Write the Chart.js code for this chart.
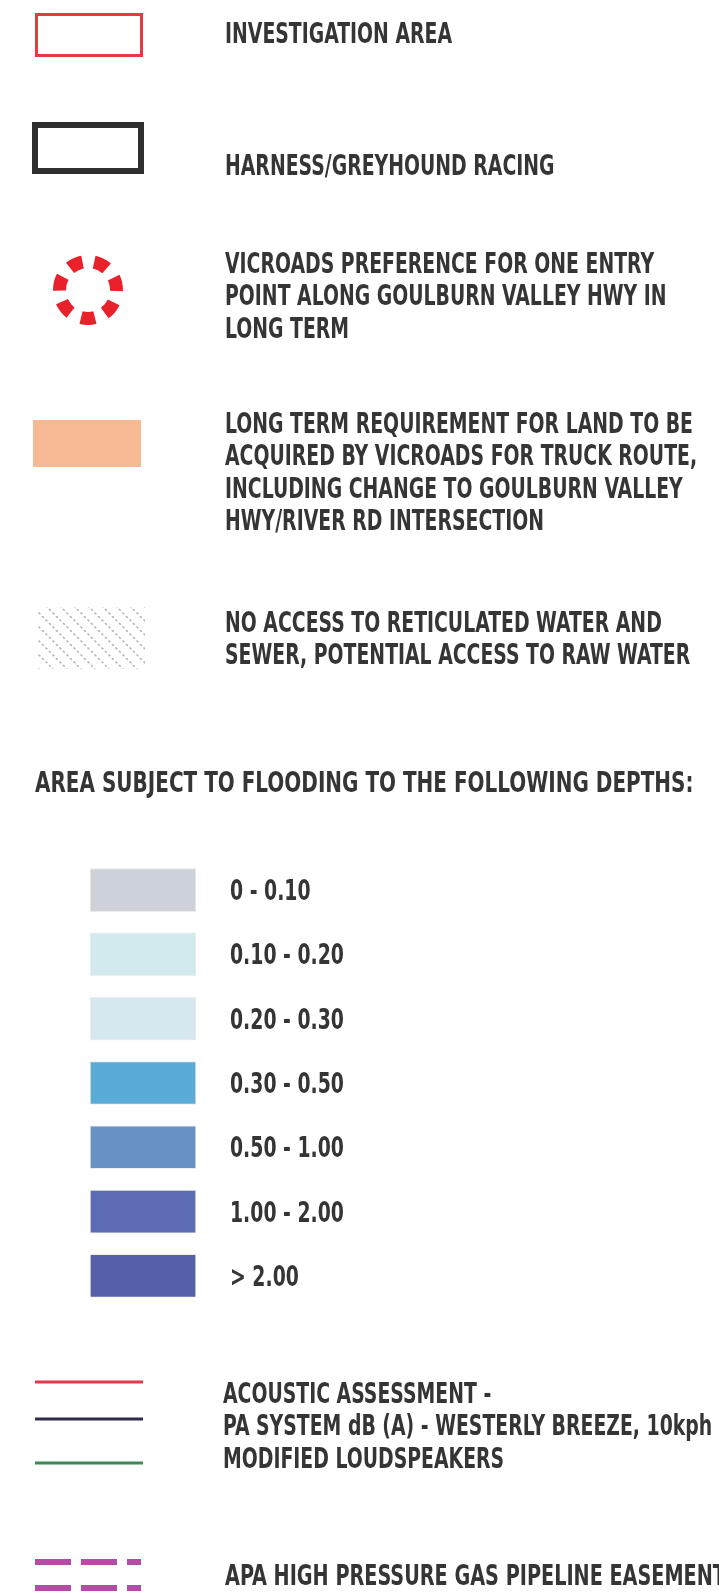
<!DOCTYPE html>
<html>
<head>
<meta charset="utf-8">
<script src="https://cdn.jsdelivr.net/npm/chart.js@4.4.1/dist/chart.umd.min.js"></script>
<style>
  html, body { margin: 0; padding: 0; background: #ffffff; }
  #wrap { position: relative; width: 719px; height: 1592px; overflow: hidden; }
  canvas { position: absolute; left: 0; }
</style>
</head>
<body>
<div id="wrap">
  <canvas id="legend" width="719" height="1592" style="top:0"></canvas>
  <canvas id="depths" width="719" height="450" style="top:858px"></canvas>
</div>
<script>
// legend entries
const legendLabels = [
  ["INVESTIGATION AREA"],
  ["HARNESS/GREYHOUND RACING"],
  ["VICROADS PREFERENCE FOR ONE ENTRY", "POINT ALONG GOULBURN VALLEY HWY IN", "LONG TERM"],
  ["LONG TERM REQUIREMENT FOR LAND TO BE", "ACQUIRED BY VICROADS FOR TRUCK ROUTE,", "INCLUDING CHANGE TO GOULBURN VALLEY", "HWY/RIVER RD INTERSECTION"],
  ["NO ACCESS TO RETICULATED WATER AND", "SEWER, POTENTIAL ACCESS TO RAW WATER"],
  ["AREA SUBJECT TO FLOODING TO THE FOLLOWING DEPTHS:"],
  ["ACOUSTIC ASSESSMENT -", "PA SYSTEM dB (A) - WESTERLY BREEZE, 10kph", "MODIFIED LOUDSPEAKERS"],
  ["APA HIGH PRESSURE GAS PIPELINE EASEMENT"],
];
const symbolColors = ["#e43a40", "#2f2f2f", "#e8212b", "#f6b994", "#b4b4b4"];

// flood depths (m)
const depthRanges = ["0 - 0.10", "0.10 - 0.20", "0.20 - 0.30", "0.30 - 0.50", "0.50 - 1.00", "1.00 - 2.00", "> 2.00"];
const depthSwatch = [1, 1, 1, 1, 1, 1, 1];
const depthColors = ["#ccd2d8", "#d2eaee", "#d5e8ef", "#5babd9", "#6892c5", "#5b6cb4", "#5660a8"];

const acousticColors = ["#e8374b", "#2e2b4c", "#3d8a58"];
const pipelineColor = "#b44ba5";

// page layout (page units = px of the sheet)
const textLeft = [225, 225, 225, 225, 225, 35, 223, 225];
const textFirstLine = [33, 165, 263, 423, 622, 782, 1393, 1575];
const textStretch = [1, 1, 1, 1, 1, 1.06, 1, 1.02];
const lineStep = 32.4;

const FONT = 'bold 28px "Liberation Sans Narrow", "DejaVu Sans Condensed", "Arial Narrow", sans-serif';
const TEXT_COLOR = "#353535";

function squeezeFactor(ctx) {
  ctx.font = FONT;
  return 468 / ctx.measureText("LONG TERM REQUIREMENT FOR LAND TO BE").width;
}

function drawLabel(ctx, text, px, py, sx) {
  ctx.save();
  ctx.translate(px, py + 10);
  ctx.scale(sx, 1);
  ctx.fillText(text, 0, 0);
  ctx.restore();
}

function hatchPattern(color) {
  const tile = document.createElement("canvas");
  tile.width = tile.height = 14;
  const g = tile.getContext("2d");
  g.strokeStyle = color;
  g.lineWidth = 1.6;
  g.setLineDash([2.5, 2.45]);
  [-14, 0, 14].forEach((o) => {
    g.beginPath();
    g.moveTo(o, 0);
    g.lineTo(o + 14, 14);
    g.stroke();
  });
  return document.createElement("canvas").getContext("2d").createPattern(tile, "repeat");
}

function ringSymbol(color) {
  const c = document.createElement("canvas");
  c.width = c.height = 80;
  const g = c.getContext("2d");
  const r = 28.5;
  const seg = (2 * Math.PI * r) / 7;
  g.strokeStyle = color;
  g.lineWidth = 13;
  g.setLineDash([14, seg - 14]);
  const a0 = Math.PI / 2 - 7 / r;
  g.beginPath();
  g.arc(40, 40, r, a0, a0 + 2 * Math.PI);
  g.stroke();
  return c;
}

function swatchBar(y, x0, x1, thickness, fill, stroke, width) {
  return {
    type: "bar",
    indexAxis: "y",
    grouped: false,
    data: [{ y: y, x: [x0, x1] }],
    barThickness: thickness,
    backgroundColor: fill,
    borderColor: stroke,
    borderWidth: width,
    borderSkipped: false,
    inflateAmount: 0,
  };
}

function dashLine(y) {
  return {
    type: "line",
    data: [{ x: 35, y: y }, { x: 141, y: y }],
    borderColor: pipelineColor,
    borderWidth: 6,
    borderDash: [36, 10],
    borderCapStyle: "butt",
    pointRadius: 0,
  };
}

const legendText = {
  id: "legendText",
  afterDatasetsDraw(chart) {
    const { ctx, scales } = chart;
    const sx = squeezeFactor(ctx);
    ctx.fillStyle = TEXT_COLOR;
    ctx.textBaseline = "alphabetic";
    ctx.textAlign = "left";
    legendLabels.forEach((lines, i) => {
      lines.forEach((line, j) => {
        const px = scales.x.getPixelForValue(textLeft[i]);
        const py = scales.y.getPixelForValue(textFirstLine[i] + j * lineStep);
        drawLabel(ctx, line, px, py, sx * textStretch[i]);
      });
    });
  },
};

new Chart(document.getElementById("legend"), {
  type: "bar",
  data: {
    datasets: [
      swatchBar(35, 35, 143, 44, "rgba(0,0,0,0)", symbolColors[0], 3),
      swatchBar(148, 32, 144, 52, "rgba(0,0,0,0)", symbolColors[1], 6),
      swatchBar(443.5, 33, 141, 47, symbolColors[3], "rgba(0,0,0,0)", 0),
      swatchBar(638, 37, 145, 62, hatchPattern(symbolColors[4]), "rgba(0,0,0,0)", 0),
      swatchBar(1382, 35, 143, 3, acousticColors[0], "rgba(0,0,0,0)", 0),
      swatchBar(1419, 35, 143, 3, acousticColors[1], "rgba(0,0,0,0)", 0),
      swatchBar(1463, 35, 143, 3, acousticColors[2], "rgba(0,0,0,0)", 0),
      {
        type: "scatter",
        data: [{ x: 88, y: 290 }],
        pointStyle: ringSymbol(symbolColors[2]),
      },
      dashLine(1562),
      dashLine(1588),
    ],
  },
  options: {
    responsive: false,
    animation: false,
    devicePixelRatio: 1,
    events: [],
    layout: { padding: 0, autoPadding: false },
    scales: {
      x: { type: "linear", min: 0, max: 719, offset: false, grace: 0, display: false },
      y: { type: "linear", min: 0, max: 1592, reverse: true, offset: false, grace: 0, display: false },
    },
    plugins: {
      legend: { display: false },
      tooltip: { enabled: false },
    },
  },
  plugins: [legendText],
});

const depthText = {
  id: "depthText",
  afterDatasetsDraw(chart) {
    const { ctx, scales, chartArea } = chart;
    const sx = squeezeFactor(ctx);
    ctx.fillStyle = TEXT_COLOR;
    ctx.textBaseline = "alphabetic";
    ctx.textAlign = "left";
    depthRanges.forEach((label, i) => {
      drawLabel(ctx, label, chartArea.right + 34, scales.y.getPixelForValue(i), sx);
    });
  },
};

new Chart(document.getElementById("depths"), {
  type: "bar",
  data: {
    labels: depthRanges,
    datasets: [
      {
        data: depthSwatch,
        backgroundColor: depthColors,
        borderColor: "rgba(0,0,0,0.07)",
        borderWidth: 1,
        borderSkipped: false,
        barThickness: 43,
      },
    ],
  },
  options: {
    indexAxis: "y",
    responsive: false,
    animation: false,
    devicePixelRatio: 1,
    events: [],
    layout: { padding: { left: 90, right: 523, top: 0, bottom: 0 }, autoPadding: false },
    scales: {
      x: { min: 0, max: 1, display: false },
      y: { display: false },
    },
    plugins: {
      legend: { display: false },
      tooltip: { enabled: false },
    },
  },
  plugins: [depthText],
});
</script>
</body>
</html>
